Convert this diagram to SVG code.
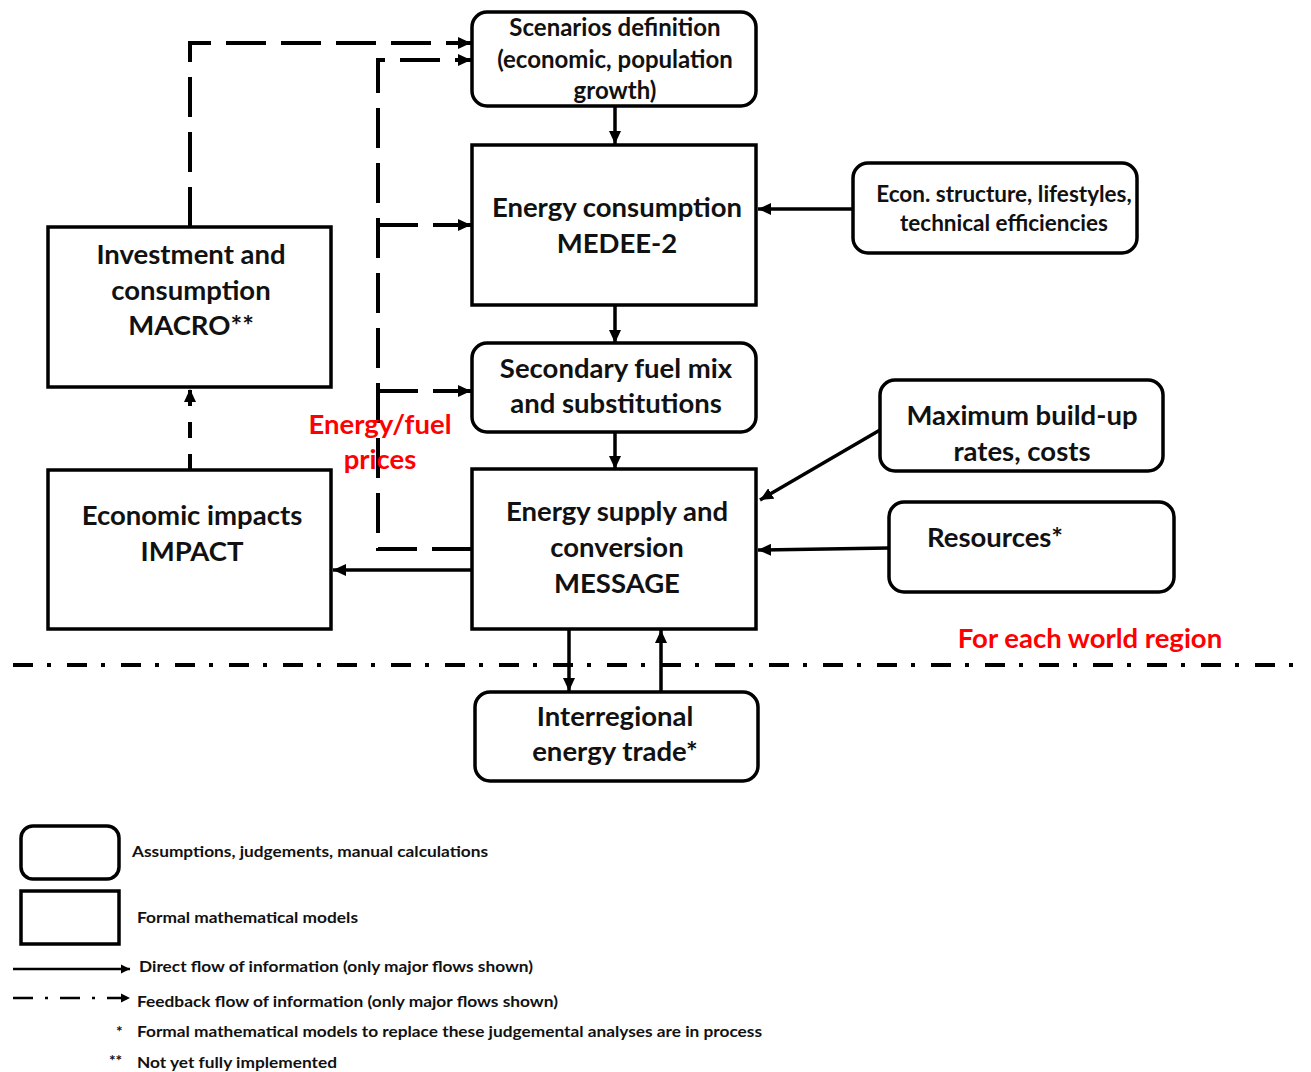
<svg xmlns="http://www.w3.org/2000/svg" width="1311" height="1072" viewBox="0 0 1311 1072">
<defs>
<marker id="ah" markerUnits="userSpaceOnUse" markerWidth="14" markerHeight="12" refX="13" refY="6" orient="auto">
<path d="M0,0 L13,6 L0,12 Z" fill="#000"/>
</marker>
<marker id="ahs" markerUnits="userSpaceOnUse" markerWidth="10" markerHeight="10" refX="9" refY="5" orient="auto">
<path d="M0,0.5 L9,5 L0,9.5 Z" fill="#000"/>
</marker>
<style>
.box{fill:#fff;stroke:#000;stroke-width:3.5}
.t{font-family:Lato,"Open Sans","Liberation Sans",sans-serif;font-weight:bold;fill:#111;text-anchor:middle}
.big{font-size:27.5px}
.mid{font-size:24px}
.sm{font-size:22.5px}
.red{fill:#f00;font-size:27.5px}
.lg{font-family:Lato,"Liberation Sans",sans-serif;font-weight:bold;fill:#111;font-size:15.5px}
.c{fill:none;stroke:#000;stroke-width:3.5}
.d{fill:none;stroke:#000;stroke-width:4;stroke-dasharray:40 15}
</style>
</defs>

<g id="connectors">
<line class="c" x1="615" y1="106" x2="615" y2="144" marker-end="url(#ah)"/>
<line class="c" x1="615" y1="305" x2="615" y2="343" marker-end="url(#ah)"/>
<line class="c" x1="615" y1="432" x2="615" y2="469" marker-end="url(#ah)"/>
<line class="c" x1="853" y1="209" x2="758" y2="209" marker-end="url(#ah)"/>
<line class="c" x1="880" y1="430" x2="760" y2="500" marker-end="url(#ah)"/>
<line class="c" x1="889" y1="548" x2="758" y2="550" marker-end="url(#ah)"/>
<line class="c" x1="472" y1="570" x2="333" y2="570" marker-end="url(#ah)"/>
<line class="c" x1="569" y1="629" x2="569" y2="691" marker-end="url(#ah)"/>
<line class="c" x1="661" y1="691" x2="661" y2="630" marker-end="url(#ah)"/>
<path class="d" d="M190,227 L190,43 L471,43" marker-end="url(#ah)"/>
<path class="d" d="M472,549 L378,549 L378,60 L471,60" marker-end="url(#ah)"/>
<path class="d" d="M378,225 L471,225" marker-end="url(#ah)"/>
<path class="d" d="M378,391 L471,391" marker-end="url(#ah)"/>
<path d="M190,470 L190,389" fill="none" stroke="#000" stroke-width="4" stroke-dasharray="16 16" marker-end="url(#ah)"/>
<line x1="13" y1="665" x2="1305" y2="665" stroke="#000" stroke-width="4" stroke-dasharray="20 14 4 16"/>
</g>

<g id="scenarios">
<rect class="box" x="472" y="12" width="284" height="94" rx="15"/>
<text class="t mid" x="615" y="36">Scenarios definition</text>
<text class="t mid" x="615" y="68">(economic, population</text>
<text class="t mid" x="615" y="99">growth)</text>
</g>

<g id="energy-consumption">
<rect class="box" x="472" y="145" width="284" height="160"/>
<text class="t big" x="617" y="217">Energy consumption</text>
<text class="t big" x="617" y="253">MEDEE-2</text>
</g>

<g id="secondary">
<rect class="box" x="472" y="343" width="284" height="89" rx="15"/>
<text class="t big" x="616" y="378">Secondary fuel mix</text>
<text class="t big" x="616" y="413">and substitutions</text>
</g>

<g id="supply">
<rect class="box" x="472" y="469" width="284" height="160"/>
<text class="t big" x="617" y="521">Energy supply and</text>
<text class="t big" x="617" y="557">conversion</text>
<text class="t big" x="617" y="593">MESSAGE</text>
</g>

<g id="investment">
<rect class="box" x="48" y="227" width="283" height="160"/>
<text class="t big" x="191" y="264">Investment and</text>
<text class="t big" x="191" y="300">consumption</text>
<text class="t big" x="191" y="335">MACRO**</text>
</g>

<g id="impacts">
<rect class="box" x="48" y="470" width="283" height="159"/>
<text class="t big" x="192" y="525">Economic impacts</text>
<text class="t big" x="192" y="561">IMPACT</text>
</g>

<g id="econ-structure">
<rect class="box" x="853" y="163" width="284" height="90" rx="15"/>
<text class="t sm" x="1004" y="202">Econ. structure, lifestyles,</text>
<text class="t sm" x="1004" y="231">technical efficiencies</text>
</g>

<g id="buildup">
<rect class="box" x="880" y="380" width="283" height="91" rx="15"/>
<text class="t big" x="1022" y="425">Maximum build-up</text>
<text class="t big" x="1022" y="461">rates, costs</text>
</g>

<g id="resources">
<rect class="box" x="889" y="502" width="285" height="90" rx="15"/>
<text class="t big" x="995" y="547">Resources*</text>
</g>

<g id="trade">
<rect class="box" x="475" y="692" width="283" height="89" rx="15"/>
<text class="t big" x="615" y="726">Interregional</text>
<text class="t big" x="615" y="761">energy trade*</text>
</g>

<g id="labels">
<text class="t red" x="380" y="434">Energy/fuel</text>
<text class="t red" x="380" y="469">prices</text>
<text class="t red" x="1090" y="648">For each world region</text>
</g>

<g id="legend">
<rect class="box" x="21" y="826" width="98" height="53" rx="12" stroke-width="3"/>
<rect class="box" x="21" y="891" width="98" height="53" stroke-width="3"/>
<text class="lg" x="132" y="857" textLength="356" lengthAdjust="spacingAndGlyphs">Assumptions, judgements, manual calculations</text>
<text class="lg" x="137" y="923" textLength="221" lengthAdjust="spacingAndGlyphs">Formal mathematical models</text>
<line x1="13" y1="969" x2="130" y2="969" stroke="#000" stroke-width="2.5" marker-end="url(#ahs)"/>
<text class="lg" x="139" y="972" textLength="394" lengthAdjust="spacingAndGlyphs">Direct flow of information (only major flows shown)</text>
<line x1="13" y1="998" x2="130" y2="998" stroke="#000" stroke-width="2.5" stroke-dasharray="20 12 3 12" marker-end="url(#ahs)"/>
<text class="lg" x="137" y="1007" textLength="421" lengthAdjust="spacingAndGlyphs">Feedback flow of information (only major flows shown)</text>
<text class="lg" x="116" y="1037">*</text>
<text class="lg" x="137" y="1037" textLength="625" lengthAdjust="spacingAndGlyphs">Formal mathematical models to replace these judgemental analyses are in process</text>
<text class="lg" x="109" y="1066">**</text>
<text class="lg" x="137" y="1068" textLength="200" lengthAdjust="spacingAndGlyphs">Not yet fully implemented</text>
</g>
</svg>
